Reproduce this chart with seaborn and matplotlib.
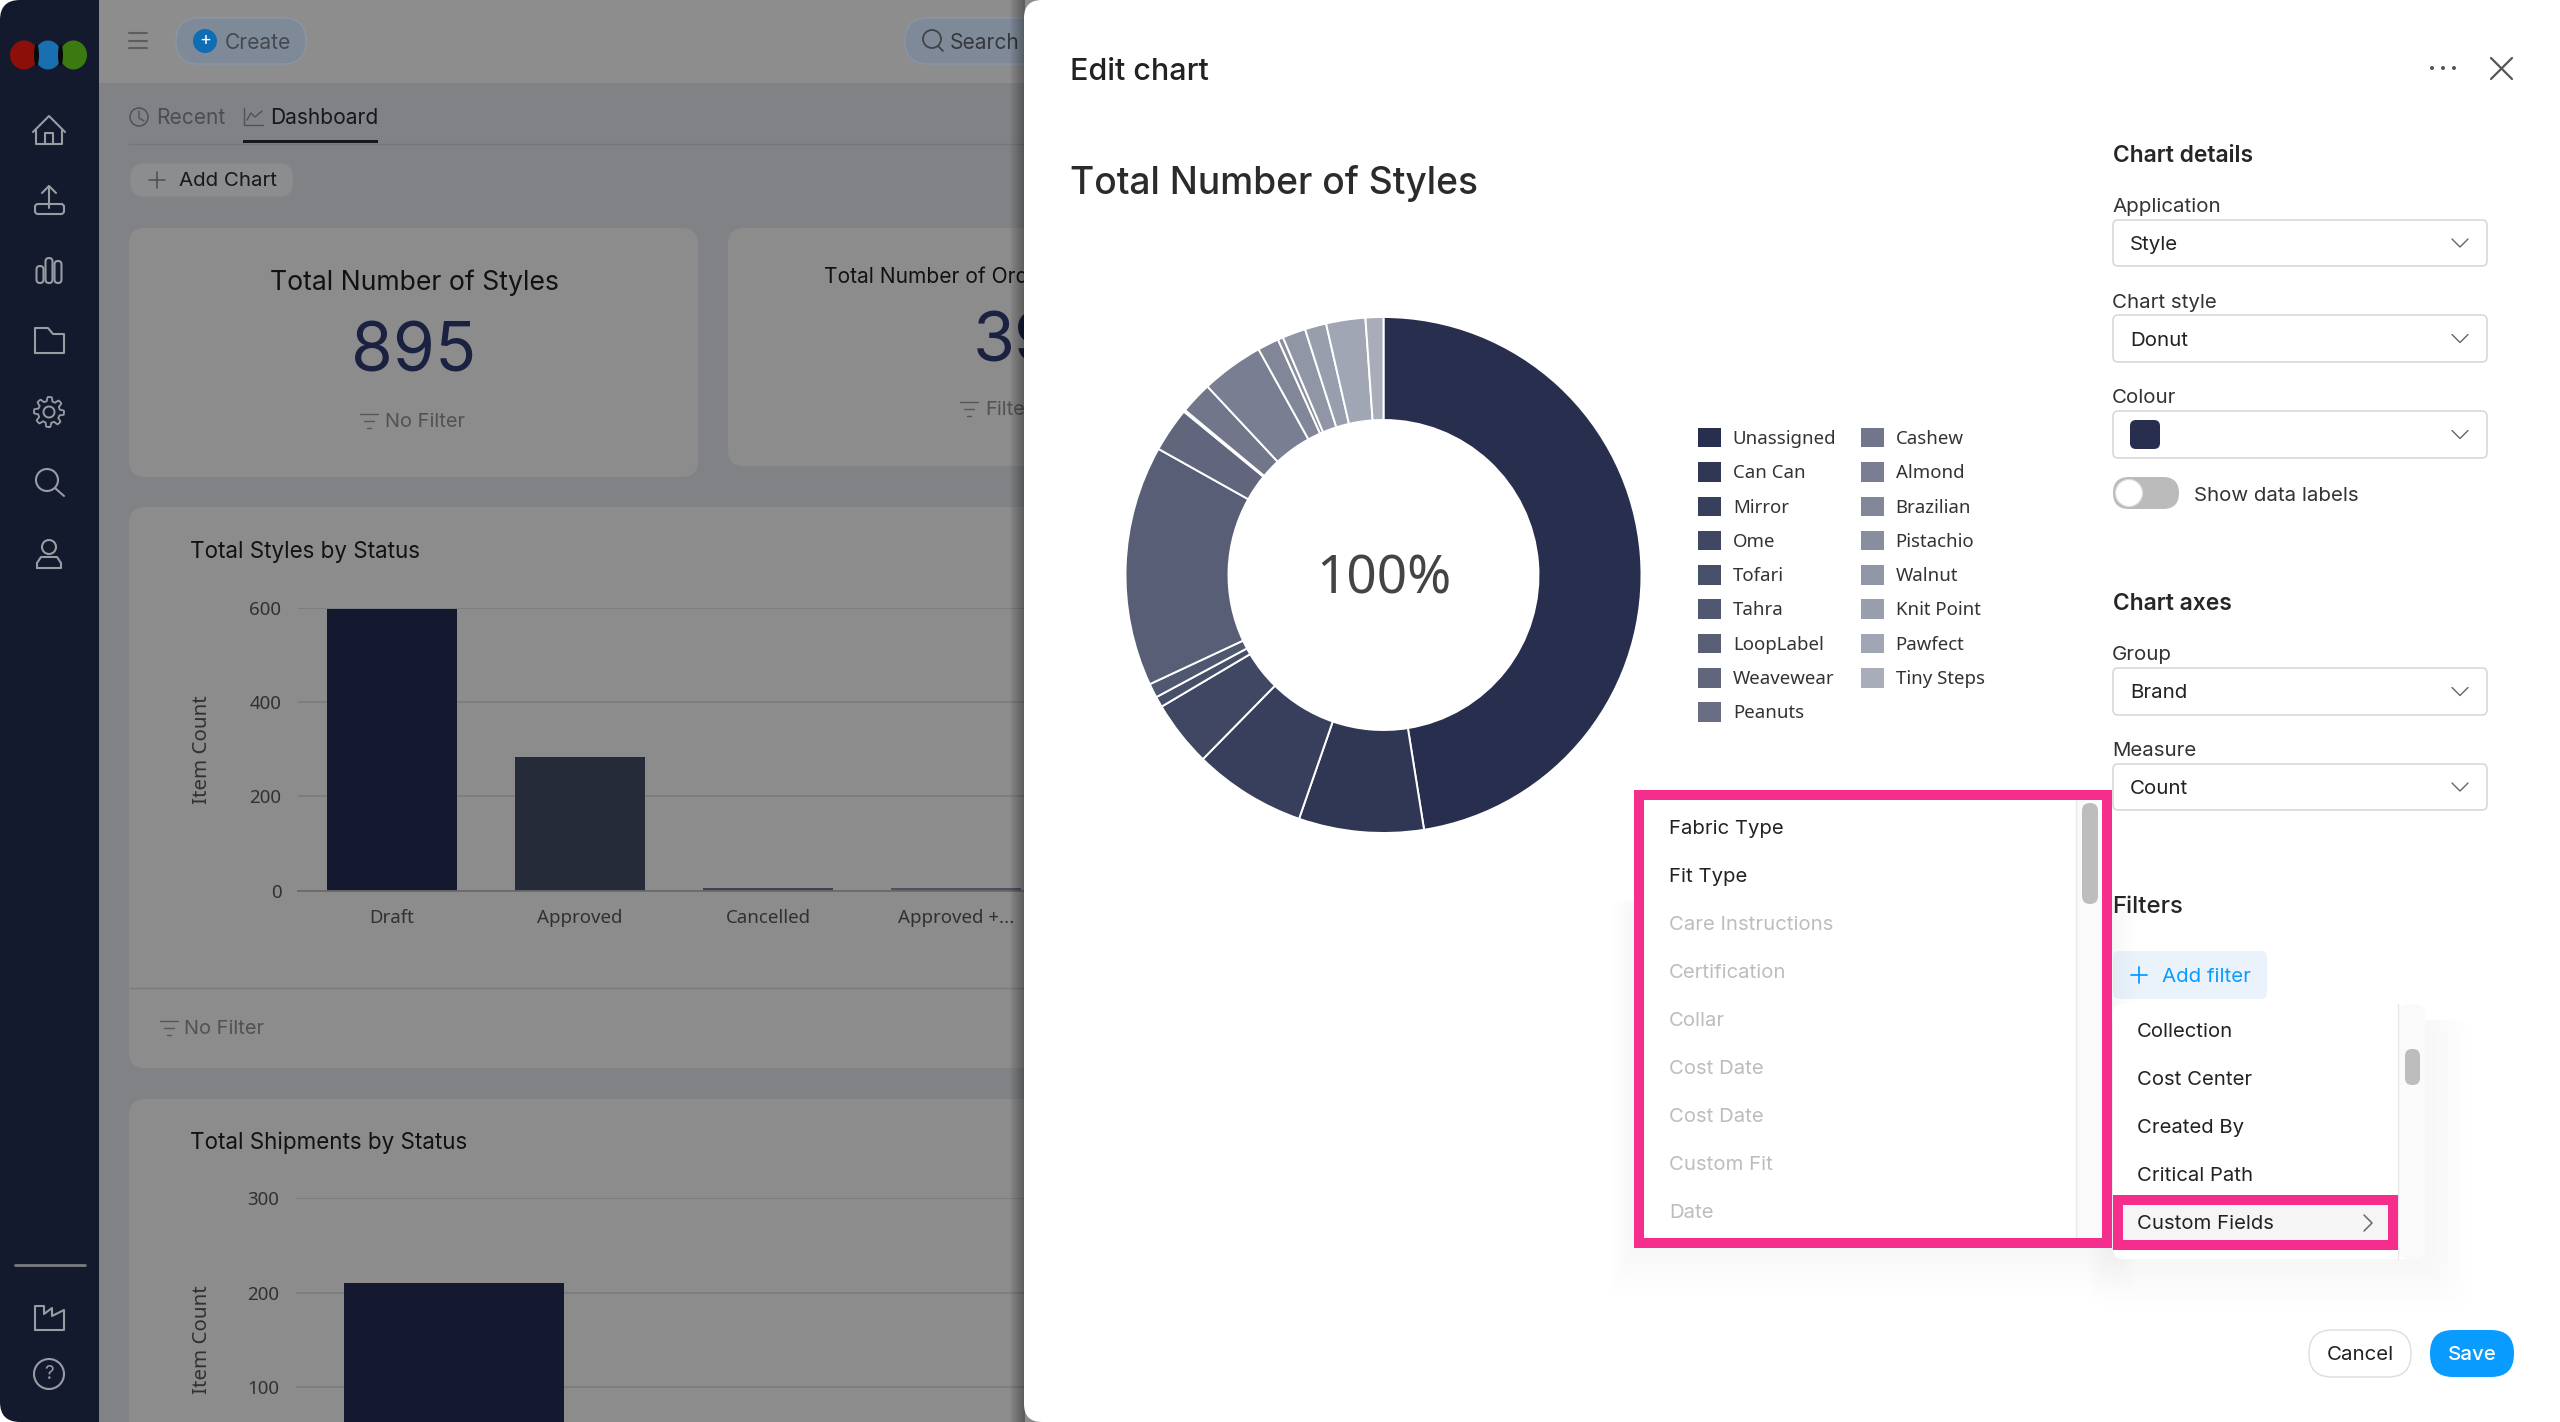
import numpy as np
import matplotlib
matplotlib.use("Agg")
import matplotlib.pyplot as plt
from matplotlib.patches import FancyBboxPatch, Rectangle, Circle, Ellipse, Patch
import seaborn as sns
import pandas as pd

W, H = 2560, 1422
SANS = ["Inter", "DejaVu Sans"]
PLEX = ["Noto Sans", "DejaVu Sans"]

brands = ["Unassigned", "Can Can", "Mirror", "Ome", "Tofari", "Tahra", "LoopLabel", "Weavewear", "Peanuts",
          "Cashew", "Almond", "Brazilian", "Pistachio", "Walnut", "Knit Point", "Pawfect", "Tiny Steps"]
brand_counts = [425, 70, 63, 37, 6, 8, 135, 25, 1, 18, 35, 12, 3, 13, 12, 22, 10]

style_status = ["Draft", "Approved", "Cancelled", "Approved +..."]
style_counts = [597, 283, 6, 6]
style_colors = ["#141930", "#262B3A", "#3D4152", "#4E5162"]
style_ticks = [0, 200, 400, 600]

ship_status = ["Draft"]
ship_counts = [210]
ship_ticks = [100, 200, 300]

col1_items = ["Fabric Type", "Fit Type", "Care Instructions", "Certification", "Collar", "Cost Date", "Cost Date", "Custom Fit", "Date"]
col2_items = ["Collection", "Cost Center", "Created By", "Critical Path", "Custom Fields"]

sns.set_theme(style="white")
plt.rcParams["font.family"] = SANS
fig = plt.figure(figsize=(W / 100, H / 100), dpi=100, facecolor="white")


def px_axes(z):
    a = fig.add_axes([0, 0, 1, 1], zorder=z)
    a.set_xlim(0, W)
    a.set_ylim(H, 0)
    a.axis("off")
    a.patch.set_alpha(0)
    return a


def rr(a, x0, y0, x1, y1, r, fc, ec="none", lw=1.0, alpha=None, z=1):
    p = FancyBboxPatch((x0 + r, y0 + r), x1 - x0 - 2 * r, y1 - y0 - 2 * r,
                       boxstyle=f"round,pad={r},rounding_size={r}", fc=fc, ec=ec, lw=lw, alpha=alpha, zorder=z)
    a.add_patch(p)


def box(a, x0, y0, x1, y1, fc, alpha=None, z=1):
    a.add_patch(Rectangle((x0, y0), x1 - x0, y1 - y0, fc=fc, ec="none", alpha=alpha, zorder=z))


def T(a, x, y, s, px, c="#222222", ha="left", weight="normal", fam=SANS, z=5):
    a.text(x, y + 2, s, fontsize=px * 0.72, color=c, ha=ha, va="center", fontweight=weight, family=fam, zorder=z)


def L(a, xs, ys, c, lw=1.5, z=4):
    a.plot(xs, ys, color=c, lw=lw, solid_capstyle="round", solid_joinstyle="round", zorder=z)


def chevron_down(a, x, y, c="#666666"):
    L(a, [x - 8, x, x + 8], [y - 4, y + 4, y - 4], c, 1.0)


def filter_icon(a, x, y, c):
    L(a, [x, x + 18], [y - 7, y - 7], c, 1.0)
    L(a, [x + 4, x + 14], [y, y], c, 1.0)
    L(a, [x + 7, x + 11], [y + 7, y + 7], c, 1.0)


# ---------- dimmed dashboard behind the dialog ----------
bg = px_axes(0)
SIDE = "#141A2E"
MAIN = "#808285"
CARD = "#8C8C8C"
ICON = "#9A9CA3"
rr(bg, 0, 0, 130, H, 20, SIDE)
box(bg, 99, 0, 1060, H, MAIN)
box(bg, 99, 0, 1060, 83, "#8D8D8D")

for x0, x1, c in [(10, 38, "#8C0F0A"), (35, 61, "#1A6FB0"), (60, 87, "#3A7A10")]:
    bg.add_patch(Ellipse(((x0 + x1) / 2, 55), x1 - x0, 29, fc=c, ec="none", zorder=2))
for xc in (36.5, 60.5):
    bg.add_patch(Ellipse((xc, 55), 5, 22, fc="#0A0A0A", ec="none", zorder=3))

cx = 49
# home
L(bg, [33, 49, 65], [132, 116, 132], ICON)
L(bg, [36, 36, 62, 62], [130, 144, 144, 130], ICON)
L(bg, [45, 45, 53, 53], [144, 133, 133, 144], ICON)
# upload
L(bg, [49, 49], [186, 208], ICON)
L(bg, [42, 49, 56], [193, 186, 193], ICON)
rr(bg, 35, 204, 64, 214, 3, "none", ICON, 1.5, z=4)
# bars
for xb, yb in [(40, 266), (49, 258), (58, 261)]:
    rr(bg, xb - 3.5, yb, xb + 3.5, 283, 3.5, "none", ICON, 1.5, z=4)
# folder
L(bg, [35, 35, 48, 53, 64, 64, 35], [353, 328, 328, 334, 334, 353, 353], ICON)
# gear
th = np.linspace(0, 2 * np.pi, 241)
rad = 13 + 2 * np.clip(2.2 * np.cos(8 * th + np.pi / 8), -1, 1)
L(bg, cx + rad * np.sin(th), 412 + rad * np.cos(th), ICON, 1.3)
bg.add_patch(Circle((cx, 412), 5.5, fc="none", ec=ICON, lw=1.4, zorder=4))
# search
bg.add_patch(Circle((47, 480), 11, fc="none", ec=ICON, lw=1.5, zorder=4))
L(bg, [55, 64], [488, 496], ICON)
# user
bg.add_patch(Circle((cx, 547), 7, fc="none", ec=ICON, lw=1.5, zorder=4))
L(bg, [37, 37, 41, 57, 61, 61, 37], [568, 563, 557, 557, 563, 568, 568], ICON)
# separator
L(bg, [15, 85], [1265, 1265], "#7A7C80", 2)
# factory
L(bg, [35, 35, 44, 44, 52, 52, 64, 64, 35], [1330, 1306, 1306, 1314, 1308, 1316, 1310, 1330, 1330], ICON)
# help
bg.add_patch(Circle((cx, 1374), 15, fc="none", ec=ICON, lw=1.5, zorder=4))
T(bg, cx, 1372, "?", 19, ICON, "center")

# top bar
for y in (33, 41, 48):
    L(bg, [129, 147], [y, y], "#5B5D60", 1.5)
rr(bg, 176, 18, 306, 64, 23, "#7F8A99", "#8A96A6", 1)
bg.add_patch(Circle((205, 41), 12, fc="#0E6DB5", ec="none", zorder=4))
T(bg, 205, 38.5, "+", 18, "white", "center")
T(bg, 225, 41, "Create", 21, "#45494F")
rr(bg, 905, 18, 1100, 64, 23, "#7F8A99", "#8A96A6", 1)
bg.add_patch(Circle((932, 39), 9, fc="none", ec="#3F4246", lw=1.3, zorder=4))
L(bg, [938, 943], [46, 51], "#3F4246", 1.3)
T(bg, 950, 41, "Search", 21, "#35383C")

# tabs
bg.add_patch(Circle((139, 117), 9, fc="none", ec="#505255", lw=1.1, zorder=4))
L(bg, [139, 139, 144], [111, 118, 121], "#505255", 1.0)
T(bg, 156, 116, "Recent", 21, "#4B4D50")
L(bg, [244, 244, 263], [108, 125, 125], "#505255", 1.0)
L(bg, [247, 251, 255, 262], [120, 113, 117, 111], "#505255", 1.0)
T(bg, 270, 116, "Dashboard", 21, "#15171A")
L(bg, [129, 1040], [143.5, 143.5], "#75777A", 1)
box(bg, 243, 140, 378, 143, "#17181B", z=3)
rr(bg, 130, 163, 293, 197, 15, "#8C8D8E", "#85878A", 1)
L(bg, [149, 165], [180, 180], "#4A4C4F", 1.1)
L(bg, [157, 157], [172, 188], "#4A4C4F", 1.1)
T(bg, 179, 178.5, "Add Chart", 20.5, "#17181B")

# cards
rr(bg, 129, 228, 698, 477, 16, CARD)
T(bg, 414, 281, "Total Number of Styles", 26.7, "#121212", "center")
T(bg, 414, 352, "895", 68, "#1B2140", "center")
filter_icon(bg, 360, 421, "#55575A")
T(bg, 385, 420, "No Filter", 20, "#505254")

rr(bg, 728, 228, 1100, 466, 16, CARD)
T(bg, 824, 275, "Total Number of Orders", 21, "#121212")
T(bg, 973, 341, "3973", 68, "#1B2140")
filter_icon(bg, 960, 409, "#55575A")
T(bg, 985, 408, "Filter", 20, "#505254")

rr(bg, 129, 507, 1100, 1068, 16, CARD)
T(bg, 190, 550, "Total Styles by Status", 22.4, "#121212")
L(bg, [130, 1040], [988, 988], "#797A7C", 1)
filter_icon(bg, 160, 1028, "#55575A")
T(bg, 184, 1027, "No Filter", 20, "#505254")

rr(bg, 129, 1099, 1100, 1480, 16, CARD)
T(bg, 190, 1141, "Total Shipments by Status", 22.4, "#121212")


def bar_chart(left, right, top, bottom, cats, vals, cols, ticks, per_cat, width, ymax, show_x=True):
    a = fig.add_axes([left / W, 1 - bottom / H, (right - left) / W, (bottom - top) / H], zorder=1)
    a.patch.set_alpha(0)
    d = pd.DataFrame({"status": cats, "count": vals})
    sns.barplot(d, x="status", y="count", hue="status", order=cats, hue_order=cats, palette=cols,
                width=width, legend=False, saturation=1, ax=a, gap=0, dodge=False, linewidth=0, edgecolor="none")
    a.set_xlim(-0.5, (right - left) / per_cat - 0.5)
    a.set_ylim(0, ymax)
    a.set_yticks(ticks)
    a.yaxis.grid(True, color="#797B7D", lw=1.2)
    a.set_axisbelow(True)
    sns.despine(ax=a, left=True, right=True, top=True, bottom=False)
    a.spines["bottom"].set_color("#696A6C")
    a.spines["bottom"].set_linewidth(1.3)
    a.tick_params(axis="both", length=0, labelsize=18.7 * 0.72, labelcolor="#303133", pad=12)
    a.tick_params(axis="x", pad=13)
    for lab in a.get_xticklabels() + a.get_yticklabels():
        lab.set_family(PLEX)
    if not show_x:
        a.set_xticks([])
    a.set_xlabel("")
    a.set_ylabel("Item Count", fontsize=20.5 * 0.72, color="#303133", family=PLEX)
    a.yaxis.set_label_coords((212 - left) / (right - left), 0.5)
    return a


bar_chart(298, 1060, 608, 890.5, style_status, style_counts, style_colors, style_ticks, 188.0, 0.695, 600)
bar_chart(296, 1060, 1198, 1481.5, ship_status, ship_counts, ["#141930"], ship_ticks, 316.0, 0.695, 300, show_x=False)

# ---------- dialog ----------
ui = px_axes(2)
for i in range(14):
    box(ui, 1010 + i, 0, 1024 + 1, H, "black", alpha=0.022, z=0)
rr(ui, 1024, 0, 2620, H, 18, "white", z=1)

T(ui, 1070, 70.5, "Edit chart", 30.5, "#222222", weight="medium")
for dx in (2432, 2443, 2454):
    ui.add_patch(Circle((dx, 68), 2, fc="#555555", ec="none", zorder=4))
L(ui, [2491, 2512], [58, 79], "#555555", 1.6)
L(ui, [2491, 2512], [79, 58], "#555555", 1.6)
T(ui, 1070, 182, "Total Number of Styles", 37.2, "#2B2B2B", weight="medium")

T(ui, 2113, 154.5, "Chart details", 22.8, "#262626", weight="semibold")
T(ui, 2113, 602.5, "Chart axes", 22.8, "#262626", weight="semibold")
T(ui, 2112, 905, "Filters", 24, "#262626", weight="medium")

for lab, ly, val, y0, y1 in [("Application", 204.5, "Style", 220, 266), ("Chart style", 300.5, "Donut", 315, 362),
                             ("Colour", 396, "", 411, 458), ("Group", 653.5, "Brand", 668, 715),
                             ("Measure", 749.5, "Count", 764, 810)]:
    T(ui, 2112, ly, lab, 20.5, "#333333")
    rr(ui, 2113, y0, 2487, y1, 5, "white", "#D2D2D2", 1.0)
    if val:
        T(ui, 2130, (y0 + y1) / 2, val, 20.5, "#222222")
    chevron_down(ui, 2460, (y0 + y1) / 2)
rr(ui, 2130, 420, 2160, 449, 6, "#282F4E")
rr(ui, 2113, 477, 2179, 509, 16, "#BBBBBB")
ui.add_patch(Circle((2129, 493), 13.5, fc="white", ec="#DDDDDD", lw=0.8, zorder=4))
T(ui, 2194, 494, "Show data labels", 20.5, "#333333")

# add filter
rr(ui, 2113, 951, 2267, 999, 6, "#EAF3FB")
L(ui, [2131, 2147], [975, 975], "#0A9BFF", 1.3)
L(ui, [2139, 2139], [967, 983], "#0A9BFF", 1.3)
T(ui, 2162, 975, "Add filter", 20.5, "#0A9BFF")

# soft shadows
for i in range(8):
    g = 5 + i * 6
    rr(ui, 1634 - g * 0.5, 900, 2112 + g * 0.5, 1248 + g, 12, "black", alpha=0.004, z=1)
    rr(ui, 2113 - g * 0.5, 1020, 2425 + g, 1259 + g, 12, "black", alpha=0.005, z=1)

# long list
box(ui, 1634, 790, 2112, 1248, "white", z=2)
box(ui, 2076, 800, 2102, 1238, "#FAFAFA", z=2)
L(ui, [2076, 2076], [800, 1238], "#E8E8E8", 1, z=3)
rr(ui, 2082, 803, 2098, 904, 8, "#BDBDBD", z=3)
for i, (s, y) in enumerate(zip(col1_items, [826.5, 874.5, 922.5, 970.5, 1018.5, 1066.5, 1114.5, 1162.5, 1210.5])):
    T(ui, 1669, y, s, 20.3, "#222222" if i < 2 else "#BDBDBD")
ui.add_patch(Rectangle((1639, 795), 468, 448, fc="none", ec="#F52E8E", lw=7.2, zorder=6))

# short dropdown
rr(ui, 2113, 1004, 2425, 1259, 10, "white", z=2)
rr(ui, 2398, 1004, 2425, 1259, 10, "#FAFAFA", z=2)
L(ui, [2398, 2398], [1004, 1259], "#E8E8E8", 1, z=3)
rr(ui, 2405, 1049, 2420, 1085, 7, "#BDBDBD", z=3)
for s, y in zip(col2_items, [1030, 1078, 1126, 1174, 1222]):
    T(ui, 2137, y, s, 20.3, "#222222", z=7)
box(ui, 2123, 1205, 2388, 1240, "#F5F5F5", z=3)
ui.add_patch(Rectangle((2118, 1199.5), 275, 45.5, fc="none", ec="#F52E8E", lw=7.2, zorder=6))
L(ui, [2364, 2372, 2364], [1215, 1223, 1231], "#666666", 1.1, z=7)

# buttons
rr(ui, 2309, 1330, 2411, 1377, 23, "white", "#DDDDDD", 1.0)
T(ui, 2360, 1353, "Cancel", 20.5, "#222222", "center")
rr(ui, 2430, 1330, 2514, 1377, 23, "#0A9BFF")
T(ui, 2472, 1353, "Save", 20.5, "white", "center", weight="medium")

# ---------- donut ----------
R = 258
pal = sns.blend_palette(["#282F4E", "#A9ADBA"], len(brands))
don = fig.add_axes([(1383.5 - R) / W, 1 - (575 + R) / H, 2 * R / W, 2 * R / H], zorder=3)
wedges, _ = don.pie(brand_counts, startangle=90, counterclock=False, colors=pal, radius=1,
                    wedgeprops=dict(width=1 - 155 / 258, edgecolor="white", linewidth=1.4))
don.set_xlim(-1, 1)
don.set_ylim(-1, 1)
don.text(0, -0.02, "100%", ha="center", va="center", fontsize=53 * 0.72, color="#444444", family=PLEX)

FS = 13.4
handles = [Patch(fc=c, ec="none", label=b) for c, b in zip(pal, brands)]
leg = don.legend(handles=handles, ncols=2, loc="upper left", bbox_to_anchor=(1698 / W, 1 - 428 / H),
                 bbox_transform=fig.transFigure, frameon=False, fontsize=FS, borderpad=0, borderaxespad=0,
                 handlelength=16.5 / FS, handleheight=16.5 / FS, handletextpad=8.6 / FS,
                 labelspacing=10.3 / FS, columnspacing=1.3, labelcolor="#333333", prop={"family": PLEX, "size": FS})

fig.savefig("out.png", dpi=100, facecolor="white")
